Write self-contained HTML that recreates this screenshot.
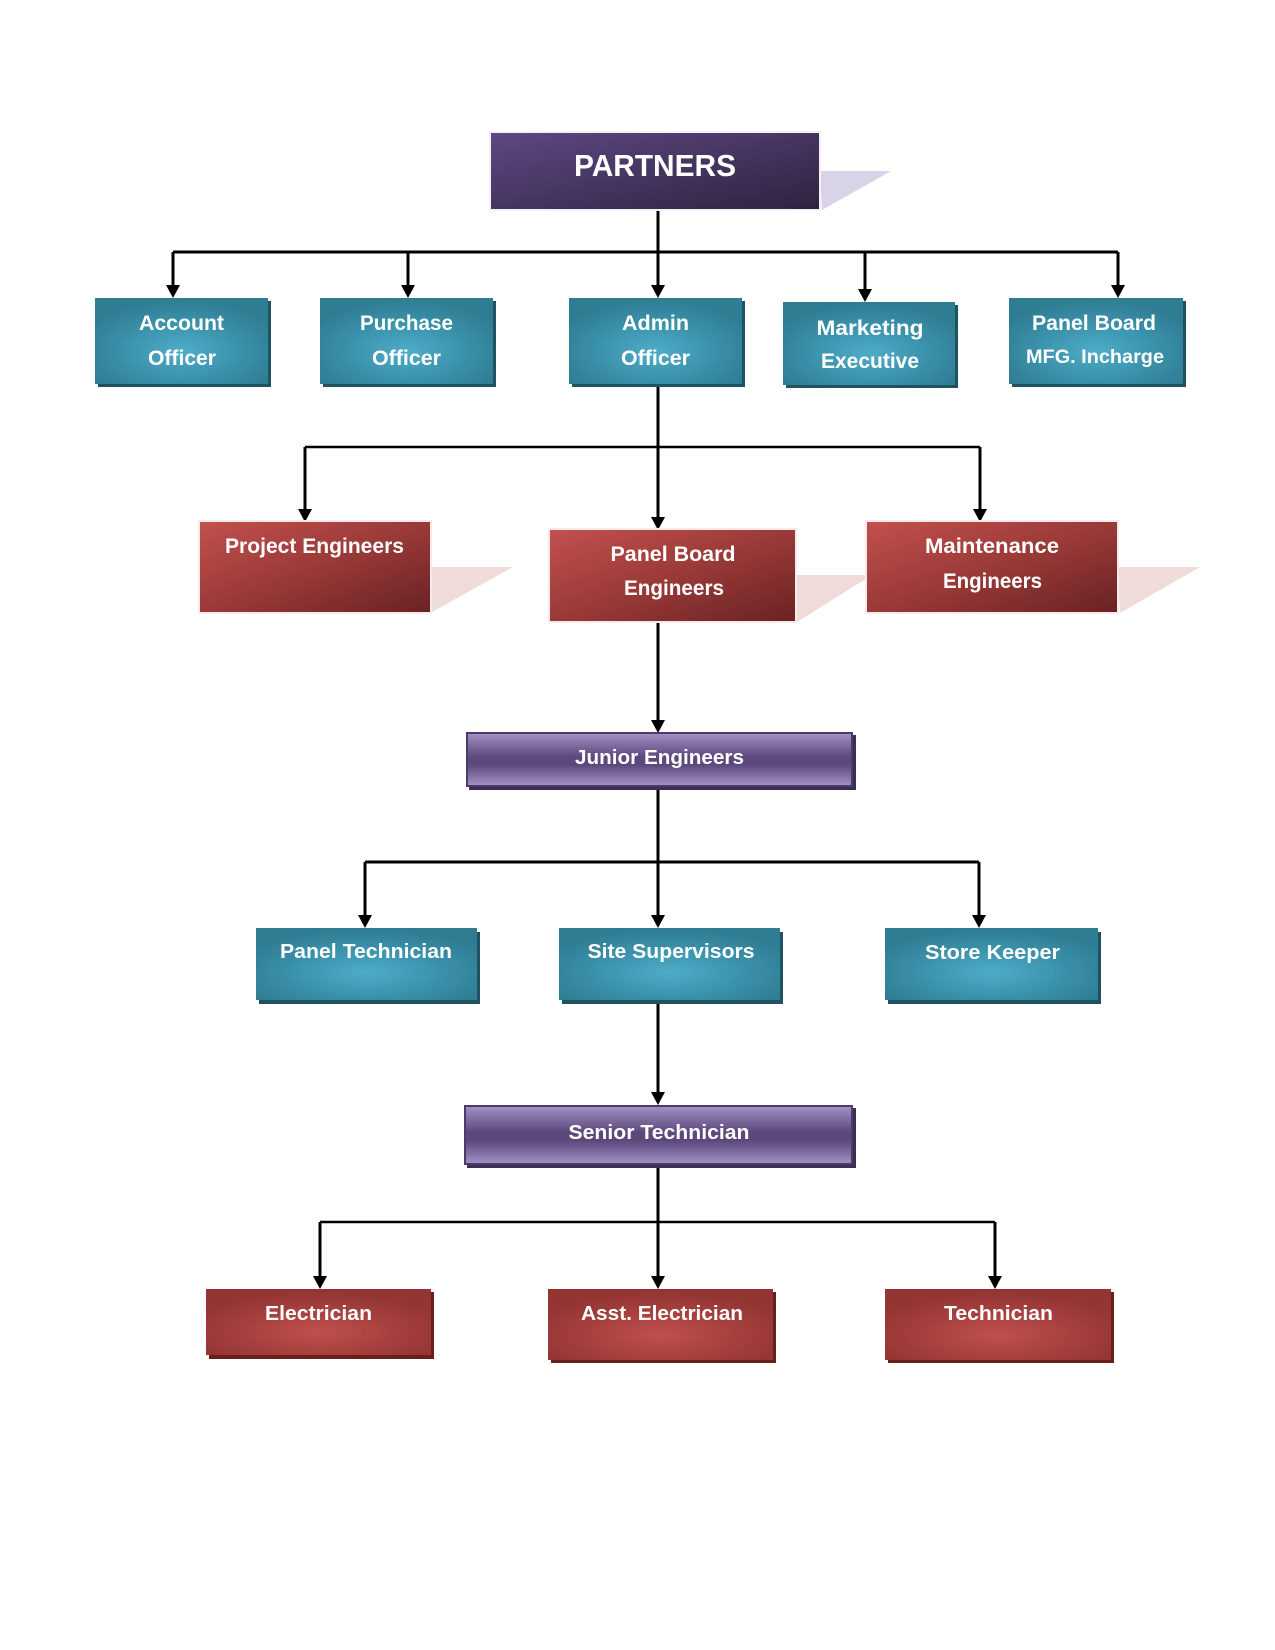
<!DOCTYPE html>
<html><head><meta charset="utf-8"><style>
html,body{margin:0;padding:0;background:#fff;}
svg{display:block;}
text{font-family:"Liberation Sans",sans-serif;font-weight:bold;fill:#fff;}
</style></head><body>
<svg width="1275" height="1650" viewBox="0 0 1275 1650" xmlns="http://www.w3.org/2000/svg">
<defs>
<linearGradient id="gP" x1="0" y1="0" x2="1" y2="1">
<stop offset="0" stop-color="#5e4882"/><stop offset="1" stop-color="#2f2240"/>
</linearGradient>
<radialGradient id="gT" cx="0.5" cy="0.62" r="0.6">
<stop offset="0" stop-color="#4eacc8"/><stop offset="0.55" stop-color="#3b92ab"/><stop offset="1" stop-color="#2f7d93"/>
</radialGradient>
<linearGradient id="gR" x1="0" y1="0" x2="1" y2="1">
<stop offset="0" stop-color="#c2504e"/><stop offset="0.5" stop-color="#9a3a38"/><stop offset="1" stop-color="#6a2224"/>
</linearGradient>
<radialGradient id="gR2" cx="0.5" cy="0.65" r="0.6">
<stop offset="0" stop-color="#c0504d"/><stop offset="0.6" stop-color="#a43f3d"/><stop offset="1" stop-color="#933533"/>
</radialGradient>
<linearGradient id="gV" x1="0" y1="0" x2="0" y2="1">
<stop offset="0" stop-color="#a28ec2"/><stop offset="0.45" stop-color="#5d487e"/><stop offset="0.6" stop-color="#5d487e"/><stop offset="1" stop-color="#a28ec2"/>
</linearGradient>
</defs>

<!-- shadow triangles -->
<polygon points="820,171 891,171 822,210" fill="#d9d3e7"/>
<polygon points="430,567 513,567 432,612" fill="#f0dbdb"/>
<polygon points="795,575 872,575 797,622" fill="#f0dbdb"/>
<polygon points="1117,567 1200,567 1120,613" fill="#f0dbdb"/>

<!-- connectors -->
<g stroke="#000" stroke-width="3" fill="none">
<line x1="658" y1="209" x2="658" y2="286"/>
<line x1="173" y1="252" x2="1118" y2="252"/>
<line x1="173" y1="252" x2="173" y2="286"/>
<line x1="408" y1="252" x2="408" y2="286"/>
<line x1="865" y1="252" x2="865" y2="290"/>
<line x1="1118" y1="252" x2="1118" y2="286"/>

<line x1="658" y1="387" x2="658" y2="518"/>
<line x1="305" y1="447" x2="980" y2="447" stroke-width="2.6"/>
<line x1="305" y1="447" x2="305" y2="510"/>
<line x1="980" y1="447" x2="980" y2="510"/>

<line x1="658" y1="622" x2="658" y2="721"/>

<line x1="658" y1="790" x2="658" y2="916"/>
<line x1="365" y1="862" x2="979" y2="862"/>
<line x1="365" y1="862" x2="365" y2="916"/>
<line x1="979" y1="862" x2="979" y2="916"/>

<line x1="658" y1="1000" x2="658" y2="1093"/>

<line x1="658" y1="1168" x2="658" y2="1277"/>
<line x1="320" y1="1222" x2="995" y2="1222" stroke-width="2.4"/>
<line x1="320" y1="1222" x2="320" y2="1277"/>
<line x1="995" y1="1222" x2="995" y2="1277"/>
</g>
<g fill="#000">
<polygon points="166,285 180,285 173,298"/>
<polygon points="401,285 415,285 408,298"/>
<polygon points="651,285 665,285 658,298"/>
<polygon points="858,289 872,289 865,302"/>
<polygon points="1111,285 1125,285 1118,298"/>
<polygon points="651,517 665,517 658,530"/>
<polygon points="298,509 312,509 305,522"/>
<polygon points="973,509 987,509 980,522"/>
<polygon points="651,720 665,720 658,733"/>
<polygon points="358,915 372,915 365,928"/>
<polygon points="651,915 665,915 658,928"/>
<polygon points="972,915 986,915 979,928"/>
<polygon points="651,1092 665,1092 658,1105"/>
<polygon points="313,1276 327,1276 320,1289"/>
<polygon points="651,1276 665,1276 658,1289"/>
<polygon points="988,1276 1002,1276 995,1289"/>
</g>

<!-- PARTNERS -->
<rect x="489" y="131" width="332" height="80" fill="#f3f1f6"/>
<rect x="491" y="133" width="328" height="76" fill="url(#gP)"/>
<text x="655" y="176" font-size="31" text-anchor="middle" textLength="162" lengthAdjust="spacingAndGlyphs">PARTNERS</text>

<!-- Row 1 teal -->
<g>
<rect x="98" y="301" width="173" height="86" fill="#1f5364"/>
<rect x="95" y="298" width="173" height="86" fill="url(#gT)"/>
<rect x="323" y="301" width="173" height="86" fill="#1f5364"/>
<rect x="320" y="298" width="173" height="86" fill="url(#gT)"/>
<rect x="572" y="301" width="173" height="86" fill="#1f5364"/>
<rect x="569" y="298" width="173" height="86" fill="url(#gT)"/>
<rect x="786" y="305" width="172" height="83" fill="#1f5364"/>
<rect x="783" y="302" width="172" height="83" fill="url(#gT)"/>
<rect x="1012" y="301" width="174" height="86" fill="#1f5364"/>
<rect x="1009" y="298" width="174" height="86" fill="url(#gT)"/>
</g>
<g font-size="21" text-anchor="middle">
<text x="181.5" y="330" textLength="85" lengthAdjust="spacingAndGlyphs">Account</text>
<text x="182" y="365" textLength="68" lengthAdjust="spacingAndGlyphs">Officer</text>
<text x="406.5" y="330" textLength="93" lengthAdjust="spacingAndGlyphs">Purchase</text>
<text x="406.5" y="365" textLength="69" lengthAdjust="spacingAndGlyphs">Officer</text>
<text x="655.5" y="330" textLength="67" lengthAdjust="spacingAndGlyphs">Admin</text>
<text x="655.5" y="365" textLength="69" lengthAdjust="spacingAndGlyphs">Officer</text>
<text x="870" y="335" textLength="107" lengthAdjust="spacingAndGlyphs">Marketing</text>
<text x="870" y="368" textLength="98" lengthAdjust="spacingAndGlyphs">Executive</text>
<text x="1094" y="330" textLength="124" lengthAdjust="spacingAndGlyphs">Panel Board</text>
<text x="1095" y="363" font-size="19.5" textLength="138" lengthAdjust="spacingAndGlyphs">MFG. Incharge</text>
</g>

<!-- Row 2 red -->
<rect x="198" y="520" width="234" height="94" fill="#f6eaea"/>
<rect x="200" y="522" width="230" height="90" fill="url(#gR)"/>
<rect x="548" y="528" width="249" height="95" fill="#f6eaea"/>
<rect x="550" y="530" width="245" height="91" fill="url(#gR)"/>
<rect x="865" y="520" width="254" height="94" fill="#f6eaea"/>
<rect x="867" y="522" width="250" height="90" fill="url(#gR)"/>
<g font-size="21" text-anchor="middle">
<text x="314.5" y="553" textLength="179" lengthAdjust="spacingAndGlyphs">Project Engineers</text>
<text x="673" y="561" textLength="125" lengthAdjust="spacingAndGlyphs">Panel Board</text>
<text x="674" y="595" textLength="100" lengthAdjust="spacingAndGlyphs">Engineers</text>
<text x="992" y="553" textLength="134" lengthAdjust="spacingAndGlyphs">Maintenance</text>
<text x="992.5" y="588" textLength="99" lengthAdjust="spacingAndGlyphs">Engineers</text>
</g>

<!-- Junior Engineers -->
<rect x="469" y="735" width="387" height="55" fill="#3b2e52"/>
<rect x="466" y="732" width="387" height="55" fill="#4b3b6b"/>
<rect x="468" y="734" width="383" height="51" fill="url(#gV)"/>
<text x="659.5" y="764" font-size="20" text-anchor="middle" textLength="169" lengthAdjust="spacingAndGlyphs">Junior Engineers</text>

<!-- Row 3 teal -->
<rect x="259" y="932" width="221" height="72" fill="#1f5364"/>
<rect x="256" y="928" width="221" height="72" fill="url(#gT)"/>
<rect x="562" y="932" width="221" height="72" fill="#1f5364"/>
<rect x="559" y="928" width="221" height="72" fill="url(#gT)"/>
<rect x="888" y="932" width="213" height="72" fill="#1f5364"/>
<rect x="885" y="928" width="213" height="72" fill="url(#gT)"/>
<g font-size="20.5" text-anchor="middle">
<text x="366" y="958" textLength="172" lengthAdjust="spacingAndGlyphs">Panel Technician</text>
<text x="671" y="958" textLength="167" lengthAdjust="spacingAndGlyphs">Site Supervisors</text>
<text x="992.5" y="959" textLength="135" lengthAdjust="spacingAndGlyphs">Store Keeper</text>
</g>

<!-- Senior Technician -->
<rect x="467" y="1108" width="389" height="60" fill="#3b2e52"/>
<rect x="464" y="1105" width="389" height="60" fill="#4b3b6b"/>
<rect x="466" y="1107" width="385" height="56" fill="url(#gV)"/>
<text x="659" y="1139" font-size="20.5" text-anchor="middle" textLength="181" lengthAdjust="spacingAndGlyphs">Senior Technician</text>

<!-- Row 4 red -->
<rect x="209" y="1292" width="225" height="67" fill="#6a1f1f"/>
<rect x="206" y="1289" width="225" height="66" fill="url(#gR2)"/>
<rect x="551" y="1292" width="225" height="71" fill="#6a1f1f"/>
<rect x="548" y="1289" width="225" height="71" fill="url(#gR2)"/>
<rect x="888" y="1292" width="226" height="71" fill="#6a1f1f"/>
<rect x="885" y="1289" width="226" height="71" fill="url(#gR2)"/>
<g font-size="20.5" text-anchor="middle">
<text x="318.5" y="1320" textLength="107" lengthAdjust="spacingAndGlyphs">Electrician</text>
<text x="662" y="1320" textLength="162" lengthAdjust="spacingAndGlyphs">Asst. Electrician</text>
<text x="998.5" y="1320" textLength="109" lengthAdjust="spacingAndGlyphs">Technician</text>
</g>
</svg>
</body></html>
